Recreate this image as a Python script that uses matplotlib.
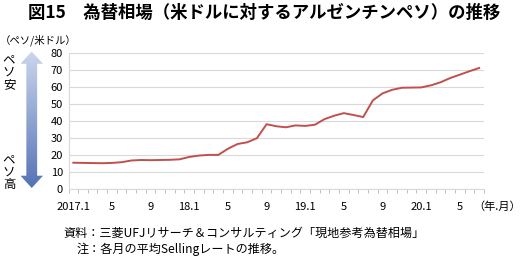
import numpy as np
import matplotlib.pyplot as plt
from matplotlib.patches import Polygon

plt.rcParams['font.family'] = ['Noto Sans CJK JP', 'DejaVu Sans']

# data: monthly average peso per US dollar, 2017.1 - 2020.7
rates = [15.6, 15.5, 15.4, 15.3, 15.5, 15.9, 16.9, 17.2, 17.1, 17.2, 17.3, 17.6,
         19.0, 19.8, 20.2, 20.2, 23.8, 26.6, 27.6, 30.0, 38.2, 37.0, 36.4, 37.5,
         37.2, 37.9, 41.2, 43.2, 44.7, 43.6, 42.4, 52.2, 56.3, 58.4, 59.6, 59.7,
         59.8, 61.0, 62.8, 65.3, 67.3, 69.3, 71.2]
tick_pos = [0, 4, 8, 12, 16, 20, 24, 28, 32, 36, 40]
tick_labels = ['2017.1', '5', '9', '18.1', '5', '9', '19.1', '5', '9', '20.1', '5']

W, H = 524, 256
fig = plt.figure(figsize=(W / 100, H / 100), dpi=100)

ax = fig.add_axes([68.5 / W, 1 - 189.3 / H, (484 - 68.5) / W, (189.3 - 53) / H])
x = np.arange(len(rates))
ax.plot(x, rates, color='#c0504d', lw=1.4)
ax.set_xlim(-0.5, len(rates) - 0.5)
ax.set_ylim(0, 80)
ax.set_yticks(range(0, 81, 10))
ax.yaxis.grid(True, color='#d9d9d9', lw=0.8)
ax.set_axisbelow(True)
ax.set_xticks(tick_pos)
ax.set_xticklabels(tick_labels, fontsize=8)
ax.set_xticks(np.arange(-0.5, len(rates)), minor=True)
ax.tick_params(axis='x', which='major', length=0, pad=9)
ax.tick_params(axis='x', which='minor', length=3, color='#bfbfbf', width=0.7)
ax.tick_params(axis='y', length=0, labelsize=8, pad=4)
for s in ['top', 'right']:
    ax.spines[s].set_visible(False)
ax.spines['left'].set_color('#d9d9d9')
ax.spines['bottom'].set_color('#d9d9d9')

# gradient double arrow
aax = fig.add_axes([20.5 / W, 1 - 188 / H, 22.5 / W, (188 - 51.5) / H])
aax.set_xlim(0, 1)
aax.set_ylim(0, 1)
aax.axis('off')
hh = 0.09
sw = 0.24
pts = [(0.5, 1), (1, 1 - hh), (0.5 + sw, 1 - hh), (0.5 + sw, hh), (1, hh), (0.5, 0),
       (0, hh), (0.5 - sw, hh), (0.5 - sw, 1 - hh), (0, 1 - hh)]
poly = Polygon(pts, closed=True, facecolor='none', edgecolor='none')
aax.add_patch(poly)
top = np.array([0.80, 0.84, 0.93])
bot = np.array([0.33, 0.45, 0.71])
t = np.linspace(0, 1, 200)[:, None]
grad = (top * (1 - t) + bot * t)[:, None, :]
im = aax.imshow(grad, extent=[0, 1, 0, 1], aspect='auto', origin='upper')
im.set_clip_path(poly)

fig.text(9 / W, 1 - 72 / H, 'ペ\nソ\n安', fontsize=9, ha='center', va='center', linespacing=0.95)
fig.text(9 / W, 1 - 172 / H, 'ペ\nソ\n高', fontsize=9, ha='center', va='center', linespacing=0.95)

fig.text(0.505, 1 - 13 / H, '図15　為替相場（米ドルに対するアルゼンチンペソ）の推移',
         fontsize=12.5, fontweight='bold', ha='center', va='center')
fig.text(0 / W, 1 - 40 / H, '（ペソ/米ドル）', fontsize=7.5, ha='left', va='center')
fig.text(521 / W, 1 - 207 / H, '（年.月）', fontsize=8, ha='right', va='center')
fig.text(63 / W, 1 - 233 / H, '資料：三菱UFJリサーチ＆コンサルティング「現地参考為替相場」',
         fontsize=8.7, ha='left', va='center')
fig.text(77 / W, 1 - 249 / H, '注：各月の平均Sellingレートの推移。',
         fontsize=8.7, ha='left', va='center')

fig.savefig('out.png', dpi=100)
